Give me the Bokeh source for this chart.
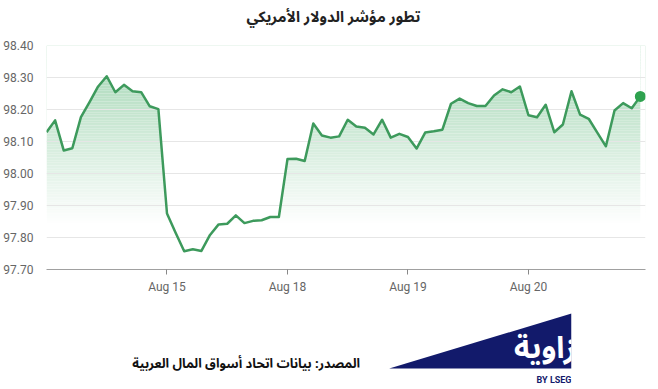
import numpy as np
from bokeh.plotting import figure
from bokeh.layouts import column
from bokeh.models import Range1d, FixedTicker, PrintfTickFormatter
from bokeh.core.properties import value
from bokeh.embed import file_html
from bokeh.resources import INLINE

# ---------------- data ----------------
title_text = "تطور مؤشر الدولار الأمريكي"
source_text = "المصدر: بيانات اتحاد أسواق المال العربية"
logo_text = "زاوية"
logo_sub = "BY LSEG"

dxy = [98.129, 98.166, 98.072, 98.079, 98.176, 98.223, 98.272, 98.304, 98.254, 98.277,
       98.257, 98.254, 98.210, 98.201, 97.875, 97.815, 97.757, 97.763, 97.758, 97.808,
       97.841, 97.843, 97.869, 97.845, 97.852, 97.854, 97.864, 97.864, 98.045, 98.046,
       98.039, 98.156, 98.119, 98.112, 98.116, 98.168, 98.147, 98.143, 98.122, 98.168,
       98.112, 98.124, 98.114, 98.078, 98.128, 98.132, 98.137, 98.218, 98.234, 98.220,
       98.211, 98.211, 98.244, 98.263, 98.254, 98.272, 98.182, 98.176, 98.215, 98.129,
       98.153, 98.257, 98.184, 98.171, 98.128, 98.085, 98.197, 98.220, 98.204, 98.241]
x_idx = list(range(len(dxy)))

x_tick_pos = [14, 28, 42, 56]
x_tick_labels = ["Aug 15", "Aug 18", "Aug 19", "Aug 20"]
y_ticks = [97.70, 97.80, 97.90, 98.00, 98.10, 98.20, 98.30, 98.40]

Y_MIN, Y_MAX = 97.70, 98.40
X_MAX = 69.6
ARABIC = value("Noto Sans Arabic, DejaVu Sans, sans-serif")

# ---------------- header ----------------
head = figure(width=658, height=34, x_range=Range1d(0, 658), y_range=Range1d(34, 0),
              toolbar_location=None, output_backend="svg", min_border=0)
head.axis.visible = False
head.grid.visible = False
head.outline_line_color = None
head.text(x=[311], y=[16], text=[title_text], text_align="center", text_baseline="middle",
          text_font=ARABIC, text_font_size="15px", text_font_style="bold", text_color="#222222")

# ---------------- main chart ----------------
p = figure(width=650, height=262, x_range=Range1d(0, X_MAX), y_range=Range1d(Y_MIN, Y_MAX),
           toolbar_location=None, output_backend="svg",
           min_border_left=43, min_border_right=5, min_border_top=11, min_border_bottom=27)
p.outline_line_color = None
p.background_fill_color = "white"
p.border_fill_color = "white"

# vertical gradient under the line (bands + white mask above the line)
levels = np.linspace(Y_MIN, Y_MAX, 141)
bottoms, tops, cols = levels[:-1], levels[1:], []
base = np.array([60, 168, 95])
for lo, hi in zip(bottoms, tops):
    mid = 0.5 * (lo + hi)
    o = 0.48 * float(np.clip((mid - 97.84) / (Y_MAX - 97.84), 0, 1))
    c = (255 - o * (255 - base)).round().astype(int)
    cols.append("#%02x%02x%02x" % tuple(c))
p.quad(left=0, right=X_MAX, bottom=bottoms, top=tops, fill_color=cols, line_color=None, level="image")
p.varea(x=x_idx, y1=dxy, y2=[Y_MAX] * len(dxy), fill_color="white", level="image")
p.quad(left=[x_idx[-1]], right=[X_MAX], bottom=[Y_MIN], top=[Y_MAX], fill_color="white",
       line_color=None, level="image")

p.line(x_idx, dxy, line_color="#3d9a5c", line_width=2.5, line_join="round")
p.scatter([x_idx[-1]], [dxy[-1]], size=11, fill_color="#2ea24f", line_color=None)

p.xgrid.visible = False
p.ygrid.ticker = FixedTicker(ticks=y_ticks)
p.ygrid.grid_line_color = "#e6e6e6"

p.yaxis.ticker = FixedTicker(ticks=y_ticks)
p.yaxis.formatter = PrintfTickFormatter(format="%.2f")
p.yaxis.axis_line_color = None
p.yaxis.major_tick_line_color = None
p.yaxis.minor_tick_line_color = None
p.yaxis.major_label_standoff = 7
p.yaxis.major_label_text_font = "Roboto"
p.yaxis.major_label_text_font_size = "12px"
p.yaxis.major_label_text_color = "#666666"

p.xaxis.ticker = FixedTicker(ticks=x_tick_pos)
p.xaxis.major_label_overrides = {t: l for t, l in zip(x_tick_pos, x_tick_labels)}
p.xaxis.axis_line_color = "#a0a0a0"
p.xaxis.major_tick_line_color = "#888888"
p.xaxis.major_tick_out = 5
p.xaxis.major_tick_in = 0
p.xaxis.minor_tick_line_color = None
p.xaxis.major_label_standoff = 5
p.xaxis.major_label_text_font = "Roboto"
p.xaxis.major_label_text_font_size = "12px"
p.xaxis.major_label_text_color = "#666666"

# ---------------- footer ----------------
foot = figure(width=576, height=90, x_range=Range1d(0, 576), y_range=Range1d(90, 0),
              toolbar_location=None, output_backend="svg", min_border=0)
foot.axis.visible = False
foot.grid.visible = False
foot.outline_line_color = None
foot.patch(x=[376, 576, 576], y=[72, 17, 72], fill_color="#121a6b", line_color=None)
foot.text(x=[581], y=[52], text=[logo_text], text_align="right", text_baseline="middle",
          text_font=ARABIC, text_font_size="30px", text_font_style="bold", text_color="white")
foot.text(x=[576], y=[83], text=[logo_sub], text_align="right", text_baseline="middle",
          text_font=value("Roboto"), text_font_size="9px", text_font_style="bold", text_color="#121a6b")
foot.text(x=[344], y=[67], text=[source_text], text_align="right", text_baseline="middle",
          text_font=ARABIC, text_font_size="13px", text_font_style="bold", text_color="#111111")

layout = column(head, p, foot, spacing=0)
open("out.html", "w").write(file_html(layout, INLINE))
